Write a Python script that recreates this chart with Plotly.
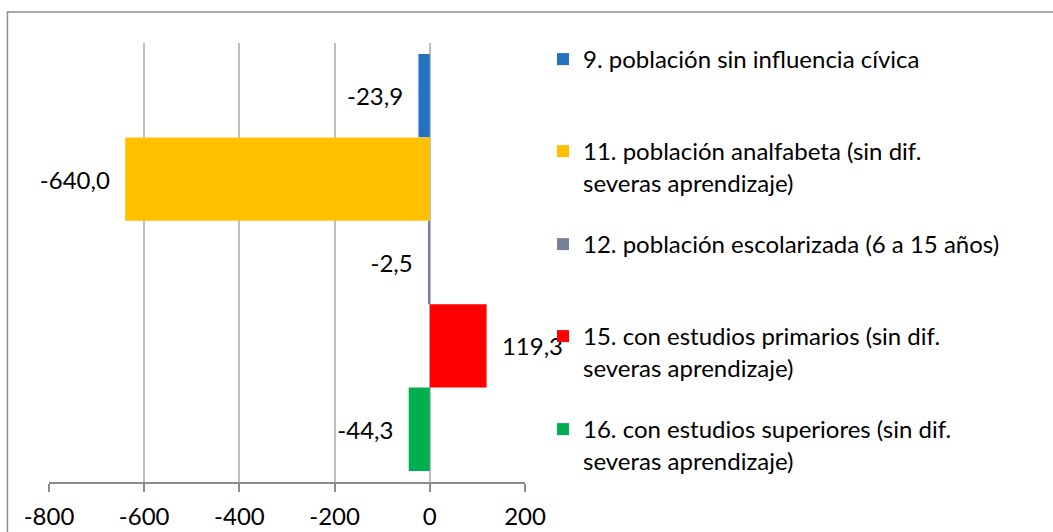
import plotly.graph_objects as go

# Data
categories = [" "]
series_names = [
    "9. población sin influencia cívica",
    "11. población analfabeta (sin dif.<br>severas aprendizaje)",
    "12. población escolarizada (6 a 15 años)",
    "15. con estudios primarios (sin dif.<br>severas aprendizaje)",
    "16. con estudios superiores (sin dif.<br>severas aprendizaje)",
]
series_values = [-23.9, -640.0, -2.5, 119.3, -44.3]
series_colors = ["#2571be", "#ffc000", "#75809a", "#ff0000", "#00b050"]
tick_values = [-800, -600, -400, -200, 0, 200]
tick_labels = ["-800", "-600", "-400", "-200", "0", "200"]

FONT = "Lato"
FONT_SIZE = 24

# plot area in pixels (figure is 1053 x 532)
L, R, T, B = 48.6, 525, 43, 482


def px_to_paper_y(py):
    return (B - py) / (B - T)


def px_to_paper_x(px):
    return (px - L) / (R - L)


fig = go.Figure()
legend_tops = [37, 129, 222, 314, 407]
legend_keys = ["legend", "legend2", "legend3", "legend4", "legend5"]

for name, val, col, lg in zip(series_names, series_values, series_colors, legend_keys):
    label = f"{val:.1f}".replace(".", ",")
    if val < 0:
        label = label + "\u00a0\u00a0"
    else:
        label = "\u00a0\u00a0" + label
    fig.add_trace(go.Bar(
        y=categories, x=[val], orientation="h", name=name,
        marker=dict(color=col, line=dict(width=0)),
        text=[label], textposition="outside", cliponaxis=False,
        constraintext="none",
        textfont=dict(family=FONT, size=FONT_SIZE, color="black"),
        legend=lg,
    ))

layout_legends = {}
for lg, top in zip(legend_keys, legend_tops):
    layout_legends[lg] = dict(
        x=px_to_paper_x(543), xanchor="left",
        y=px_to_paper_y(top), yanchor="top",
        bgcolor="rgba(0,0,0,0)", valign="top",
        font=dict(family=FONT, size=FONT_SIZE, color="black"),
    )

fig.update_layout(
    width=1053, height=532,
    margin=dict(l=L, r=1053 - R, t=T, b=532 - B, pad=0, autoexpand=False),
    plot_bgcolor="white", paper_bgcolor="white",
    barmode="group", bargap=0.05, bargroupgap=0,
    font=dict(family=FONT, size=FONT_SIZE, color="black"),
    showlegend=True,
    **layout_legends,
)

fig.update_xaxes(
    range=[-800, 200], tickvals=tick_values, ticktext=tick_labels,
    showgrid=True, gridcolor="#bebebe", gridwidth=1.5,
    zeroline=False,
    showline=True, linecolor="#8c8c8c", linewidth=1.5,
    ticks="outside", ticklen=8, tickcolor="#8c8c8c", tickwidth=1.5,
    ticklabelstandoff=4,
    tickfont=dict(family=FONT, size=FONT_SIZE, color="black"),
)
fig.update_yaxes(
    autorange="reversed", showticklabels=False, showgrid=False,
    zeroline=False, showline=False,
)

# chart-area border (runs off the right and bottom edges in the reference)
fig.add_shape(
    type="rect", xref="paper", yref="paper",
    x0=px_to_paper_x(7), x1=px_to_paper_x(1080),
    y0=px_to_paper_y(560), y1=px_to_paper_y(12),
    line=dict(color="#8e8e8e", width=1.5), fillcolor="rgba(0,0,0,0)",
    layer="below",
)

# drop the browser's default 8px body margin so the figure sits at (0, 0)
fig.write_html("out.html", config={"displayModeBar": False},
               post_script="document.body.style.margin = '0';")
